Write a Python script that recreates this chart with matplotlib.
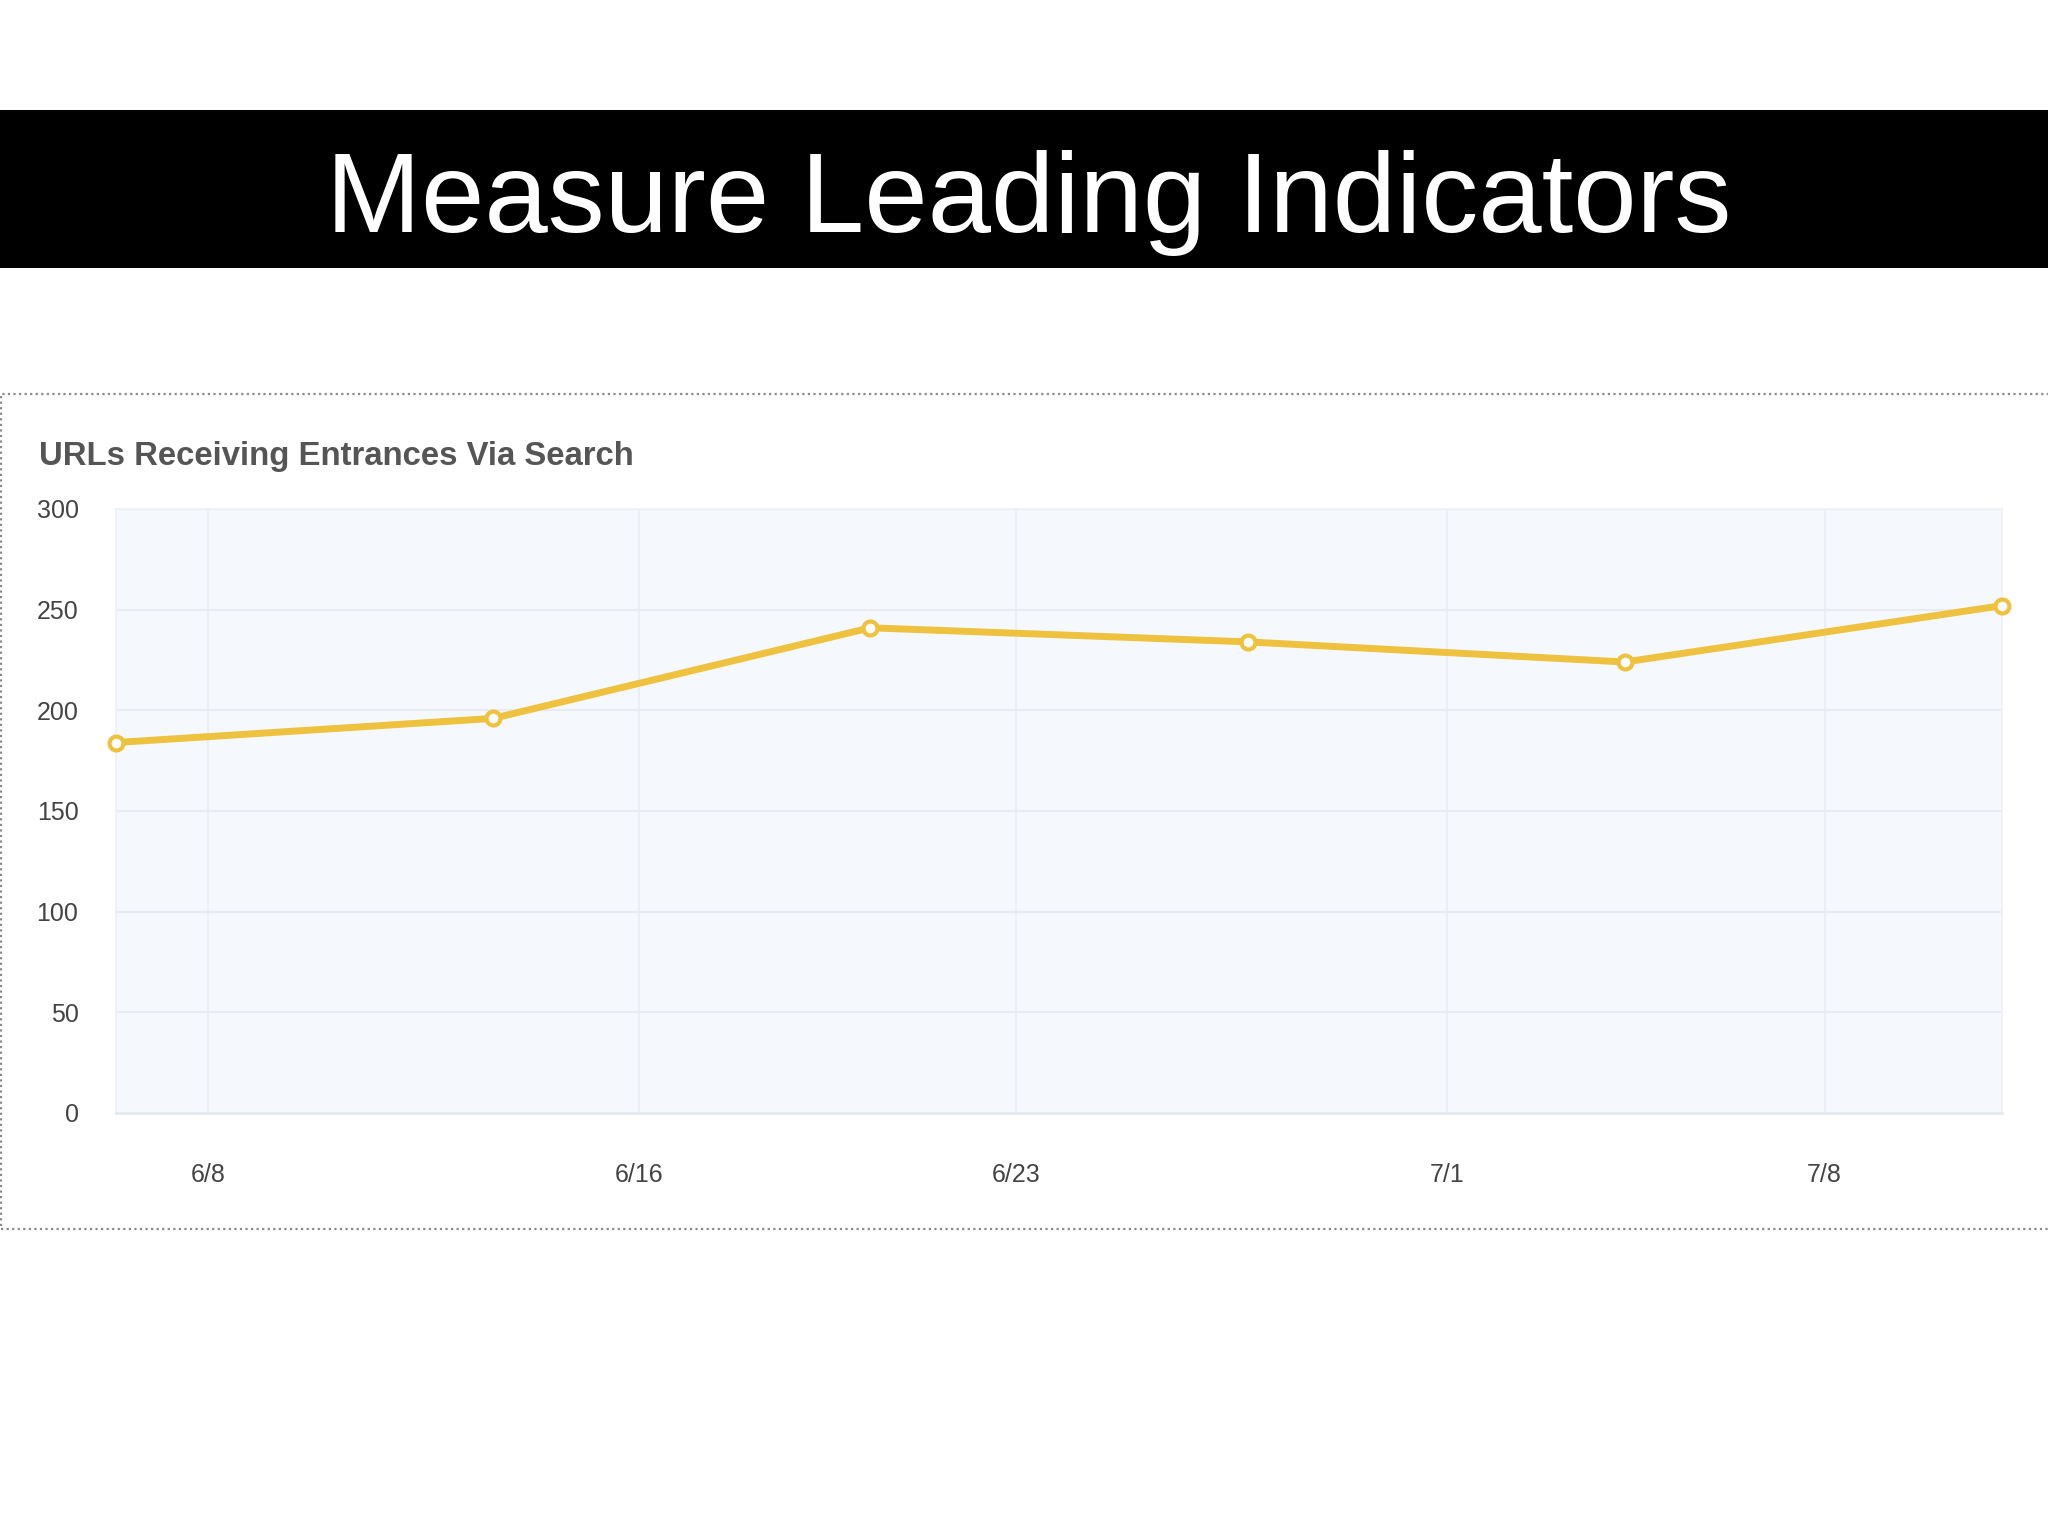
import matplotlib
matplotlib.use("Agg")
import matplotlib.pyplot as plt
import matplotlib.dates as mdates
from matplotlib.patches import Rectangle
import datetime as dt

# ---- data ----
title = "Measure Leading Indicators"
subtitle = "URLs Receiving Entrances Via Search"
week_starts = ["2013-06-06 07:00", "2013-06-13 07:00", "2013-06-20 07:00",
               "2013-06-27 07:00", "2013-07-04 07:00", "2013-07-11 07:00"]
urls = [184, 196, 241, 234, 224, 252]
xtick_dates = ["2013-06-08", "2013-06-16", "2013-06-23", "2013-07-01", "2013-07-08"]
xtick_labels = ["6/8", "6/16", "6/23", "7/1", "7/8"]
yticks = [0, 50, 100, 150, 200, 250, 300]

plt.rcParams['font.family'] = ['Liberation Sans', 'DejaVu Sans']

W, H = 2048, 1536
fig = plt.figure(figsize=(W / 100, H / 100), dpi=100)
fig.patch.set_facecolor("white")

# Title banner
banner = Rectangle((0, 1 - 268 / H), 1, (268 - 110) / H, transform=fig.transFigure,
                   facecolor="black", edgecolor="none", zorder=0)
fig.patches.append(banner)
fig.text(0.5025, 1 - 203 / H, title, color="white", fontsize=82,
         ha="center", va="center")

# dotted frame
frame = Rectangle((1 / W, 1 - 1229 / H), 1.2, (1229 - 394) / H, transform=fig.transFigure,
                  facecolor="none", edgecolor="#8a8a8a", linestyle=(0, (1, 1.5)),
                  linewidth=1.6, zorder=0)
fig.patches.append(frame)

fig.text(39 / W, 1 - 457 / H, subtitle, color="#555555", fontsize=23.7,
         fontweight="bold", ha="left", va="center")

# axes
left, right = 116 / W, 2002 / W
bottom, top = 1 - 1113 / H, 1 - 509 / H
ax = fig.add_axes([left, bottom, right - left, top - bottom])
ax.set_facecolor("#f5f9fd")

xd = [dt.datetime.strptime(s, "%Y-%m-%d %H:%M") for s in week_starts]
ax.plot(xd, urls, color="#eec23e", linewidth=5, marker="o", markersize=10,
        markerfacecolor="white", markeredgecolor="#eec23e", markeredgewidth=3,
        zorder=3, clip_on=False, solid_capstyle="round")

ax.set_xlim(xd[0], xd[-1])
ax.set_ylim(0, 300)
ax.set_yticks(yticks)
ax.set_yticklabels([str(v) for v in yticks])
ax.set_xticks([dt.datetime.strptime(s, "%Y-%m-%d") for s in xtick_dates])
ax.set_xticklabels(xtick_labels)

ax.grid(True, axis="y", color="#e8ecf2", linewidth=1.5, zorder=0)
ax.grid(True, axis="x", color="#eaeef4", linewidth=1.2, zorder=0)
ax.set_axisbelow(True)
for side in ["top", "right", "left"]:
    ax.spines[side].set_color("#edf0f5")
    ax.spines[side].set_linewidth(1.2)
ax.spines["bottom"].set_color("#e6e9ee")
ax.spines["bottom"].set_linewidth(2)

ax.tick_params(axis="both", length=0, labelsize=18, labelcolor="#444444")
ax.tick_params(axis="y", pad=27)
ax.tick_params(axis="x", pad=36)

fig.savefig("out.png", dpi=100, facecolor="white")
